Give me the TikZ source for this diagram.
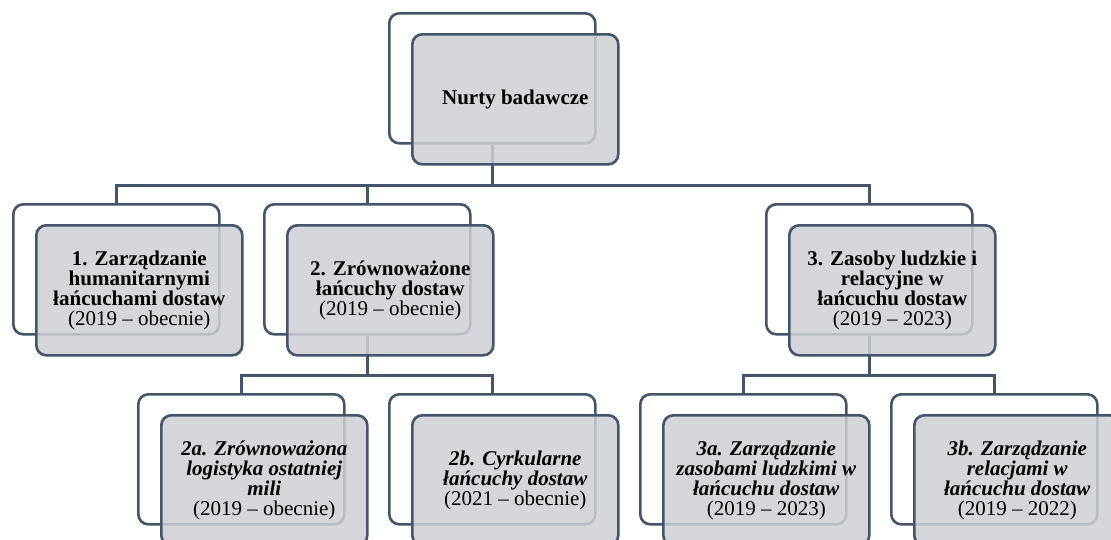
\documentclass[tikz,border=0pt]{standalone}
\usepackage{fontspec}
\setmainfont{Liberation Serif}
\usetikzlibrary{calc}
\definecolor{edge}{RGB}{68,84,106}
\definecolor{panel}{RGB}{205,207,212}
\newcommand\headb[1]{\textbf{#1}}
\newcommand\headi[1]{\textbf{\textit{#1}}}
\tikzset{
  boxbase/.style={draw=edge, line width=2.6pt, rounded corners=10pt,
    minimum width=206pt, minimum height=130pt, inner sep=0pt, anchor=north west},
  backbox/.style={boxbase, fill=white},
  frontbox/.style={boxbase, fill=panel, fill opacity=0.85, text opacity=1,
    align=center, font=\fontsize{21}{19.8}\selectfont},
  link/.style={draw=edge, line width=2.6pt},
}
\begin{document}
\begin{tikzpicture}[x=1pt, y=-1pt]
  \useasboundingbox (0,0) rectangle (1111,539);
  \clip (0,0) rectangle (1111,539);

  % back frames
  \node[backbox] (topb) at (388,12) {};
  \node[backbox] (s1b)  at (12,203) {};
  \node[backbox] (s2b)  at (263,203) {};
  \node[backbox] (s3b)  at (765,203) {};
  \node[backbox] (s2ab) at (137,393) {};
  \node[backbox] (s2bb) at (388,393) {};
  \node[backbox] (s3ab) at (639,393) {};
  \node[backbox] (s3bb) at (890,393) {};

  % tree connectors
  \draw[link] (topb.south) -- ++(0,41) coordinate (h0);
  \draw[link] (h0) -| (s1b.north);
  \draw[link] (h0) -| (s2b.north);
  \draw[link] (h0) -| (s3b.north);

  \draw[link] (s2b.south) -- ++(0,40) coordinate (h2);
  \draw[link] (h2) -| (s2ab.north);
  \draw[link] (h2) -| (s2bb.north);

  \draw[link] (s3b.south) -- ++(0,40) coordinate (h3);
  \draw[link] (h3) -| (s3ab.north);
  \draw[link] (h3) -| (s3bb.north);

  % front panels with text
  \node[frontbox] (topf) at ($(topb.north west)+(23,21)$) {\headb{Nurty badawcze}};
  \node[frontbox] (s1f) at ($(s1b.north west)+(23,21)$)
    {\headb{1. Zarządzanie}\\\headb{humanitarnymi}\\\headb{łańcuchami dostaw}\\(2019 -- obecnie)};
  \node[frontbox] (s2f) at ($(s2b.north west)+(23,21)$)
    {\headb{2. Zrównoważone}\\\headb{łańcuchy dostaw}\\(2019 -- obecnie)};
  \node[frontbox] (s3f) at ($(s3b.north west)+(23,21)$)
    {\headb{3. Zasoby ludzkie i}\\\headb{relacyjne w}\\\headb{łańcuchu dostaw}\\(2019 -- 2023)};
  \node[frontbox] (s2af) at ($(s2ab.north west)+(23,21)$)
    {\headi{2a. Zrównoważona}\\\headi{logistyka ostatniej}\\\headi{mili}\\(2019 -- obecnie)};
  \node[frontbox] (s2bf) at ($(s2bb.north west)+(23,21)$)
    {\headi{2b. Cyrkularne}\\\headi{łańcuchy dostaw}\\(2021 -- obecnie)};
  \node[frontbox] (s3af) at ($(s3ab.north west)+(23,21)$)
    {\headi{3a. Zarządzanie}\\\headi{zasobami ludzkimi w}\\\headi{łańcuchu dostaw}\\(2019 -- 2023)};
  \node[frontbox] (s3bf) at ($(s3bb.north west)+(23,21)$)
    {\headi{3b. Zarządzanie}\\\headi{relacjami w}\\\headi{łańcuchu dostaw}\\(2019 -- 2022)};
\end{tikzpicture}
\end{document}
